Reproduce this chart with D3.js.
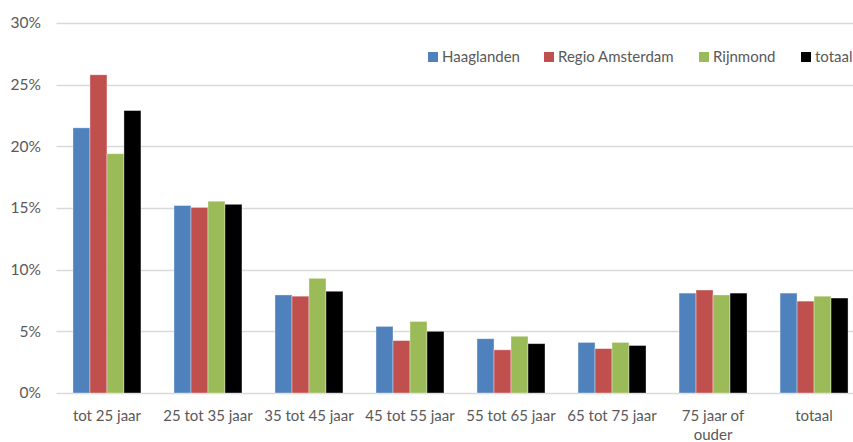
<!DOCTYPE html>
<html>
<head>
<meta charset="utf-8">
<script src="https://cdn.jsdelivr.net/npm/d3@7"></script>
<style>
  html, body { margin: 0; padding: 0; background: #fff; overflow: hidden; }
  svg { display: block; font-family: Lato, "Open Sans", sans-serif; }
</style>
</head>
<body>
<svg id="chart"></svg>
<script>
// data
const categories = ['tot 25 jaar', '25 tot 35 jaar', '35 tot 45 jaar', '45 tot 55 jaar',
                    '55 tot 65 jaar', '65 tot 75 jaar', '75 jaar of ouder', 'totaal'];
const seriesNames = ['Haaglanden', 'Regio Amsterdam', 'Rijnmond', 'totaal'];
const haaglanden     = [21.5, 15.2, 7.95, 5.4, 4.4, 4.1, 8.1, 8.1];
const regioAmsterdam = [25.8, 15.05, 7.85, 4.25, 3.5, 3.6, 8.35, 7.45];
const rijnmond       = [19.4, 15.55, 9.3, 5.8, 4.6, 4.1, 7.95, 7.85];
const totaal         = [22.9, 15.3, 8.25, 5.0, 4.0, 3.85, 8.1, 7.7];
const yTicks = [0, 5, 10, 15, 20, 25, 30];
const colors = ['#4F81BD', '#C0504D', '#9BBB59', '#000000'];

const values = [haaglanden, regioAmsterdam, rijnmond, totaal];

const width = 853, height = 442;
// plot runs past the right edge of the window, as in the original
const margin = { left: 56.5, right: -11.5, top: 23, bottom: 49 };

const svg = d3.select('#chart')
    .attr('width', width)
    .attr('height', height);

const x0 = d3.scaleBand()
    .domain(categories)
    .range([margin.left, width - margin.right])
    .paddingInner(0.327)
    .paddingOuter(0.163);

const x1 = d3.scaleBand()
    .domain(seriesNames)
    .range([0, x0.bandwidth()]);

const y = d3.scaleLinear()
    .domain([0, 30])
    .range([height - margin.bottom, margin.top]);

// gridlines
svg.append('g')
    .selectAll('line')
    .data(yTicks)
    .enter()
    .append('line')
    .attr('x1', margin.left)
    .attr('x2', width)
    .attr('y1', d => Math.round(y(d)) + 0.5)
    .attr('y2', d => Math.round(y(d)) + 0.5)
    .attr('stroke', '#d9d9d9')
    .attr('stroke-width', 1.5);

// y labels
svg.append('g')
    .selectAll('text')
    .data(yTicks)
    .enter()
    .append('text')
    .attr('x', 41)
    .attr('y', d => y(d))
    .attr('dy', '0.35em')
    .attr('text-anchor', 'end')
    .attr('fill', '#595959')
    .attr('font-size', 15.5)
    .text(d => d + '%');

// bars
const groups = svg.append('g')
    .selectAll('g')
    .data(categories)
    .enter()
    .append('g')
    .attr('transform', d => `translate(${x0(d)},0)`);

groups.selectAll('rect')
    .data((d, i) => seriesNames.map((s, j) => ({ s, j, v: values[j][i] })))
    .enter()
    .append('rect')
    .attr('x', d => x1(d.s))
    .attr('width', x1.bandwidth())
    .attr('y', d => y(d.v))
    .attr('height', d => y(0) - y(d.v))
    .attr('fill', d => colors[d.j])
    .attr('stroke', 'rgba(255,255,255,0.45)')
    .attr('stroke-width', 0.8);

// x labels
const xl = svg.append('g')
    .selectAll('text')
    .data(categories)
    .enter()
    .append('text')
    .attr('x', d => x0(d) + x0.bandwidth() / 2)
    .attr('y', 421)
    .attr('text-anchor', 'middle')
    .attr('fill', '#595959')
    .attr('font-size', 15);

xl.each(function(d) {
    const t = d3.select(this);
    const cx = x0(d) + x0.bandwidth() / 2;
    if (d === '75 jaar of ouder') {
        t.append('tspan').attr('x', cx).text('75 jaar of');
        t.append('tspan').attr('x', cx).attr('dy', 19).text('ouder');
    } else {
        t.text(d);
    }
});

// legend
const legendX = [428, 544, 699, 801];
const legend = svg.append('g')
    .selectAll('g')
    .data(seriesNames)
    .enter()
    .append('g')
    .attr('transform', (d, i) => `translate(${legendX[i]},52)`);

legend.append('rect')
    .attr('width', 10)
    .attr('height', 10)
    .attr('fill', (d, i) => colors[i]);

legend.append('text')
    .attr('x', 14)
    .attr('y', 5)
    .attr('dy', '0.35em')
    .attr('fill', '#595959')
    .attr('font-size', 15)
    .text(d => d);
</script>
</body>
</html>
